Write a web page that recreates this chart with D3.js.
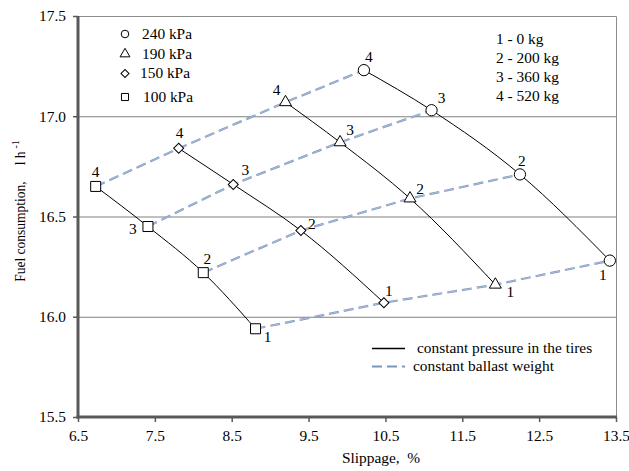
<!DOCTYPE html>
<html><head><meta charset="utf-8">
<script src="https://cdn.jsdelivr.net/npm/d3@7/dist/d3.min.js"></script>
<style>
body{margin:0;background:#fff;}
</style></head>
<body><svg id="c" width="629" height="471"></svg>
<script>
// ---- data ----
const pressures = ["240 kPa","190 kPa","150 kPa","100 kPa"];
const weightLabels = ["1 - 0 kg","2 - 200 kg","3 - 360 kg","4 - 520 kg"];
const weightIds = ["1","2","3","4"];
// slippage (%) and fuel consumption for weights 1..4
const slip240 = [13.42, 12.25, 11.10, 10.22];
const fuel240 = [16.28, 16.71, 17.03, 17.23];
const slip190 = [11.93, 10.82, 9.91, 9.20];
const fuel190 = [16.16, 16.59, 16.87, 17.07];
const slip150 = [10.48, 9.40, 8.52, 7.81];
const fuel150 = [16.07, 16.43, 16.66, 16.84];
const slip100 = [8.81, 8.13, 7.41, 6.73];
const fuel100 = [15.94, 16.22, 16.45, 16.65];
const xTicks = [6.5, 7.5, 8.5, 9.5, 10.5, 11.5, 12.5, 13.5];
const yTicks = [15.5, 16.0, 16.5, 17.0, 17.5];
const lineLegend = ["constant pressure in the tires","constant ballast weight"];

// ---- layout ----
const FONT = "Liberation Serif";
const SX = 1.1; // horizontal stretch of the reference text
const L = 78, R = 616, T = 16, B = 417;
const x = d3.scaleLinear().domain([6.5, 13.5]).range([L, R]);
const y = d3.scaleLinear().domain([15.5, 17.5]).range([B, T]);
const svg = d3.select("#c");

function txt(px, py, str, size, anchor) {
  return svg.append("text")
    .attr("transform", `translate(${px},${py}) scale(${SX},1)`)
    .attr("text-anchor", anchor || "start").attr("dominant-baseline", "central")
    .attr("font-family", FONT).attr("font-size", size).attr("fill", "#000").text(str);
}

const sq = d3.symbolSquare;
const series = [
  {name: pressures[0], sym: d3.symbolCircle, size: 100, rot: 0, xs: slip240, ys: fuel240,
   off: [[-7,15],[2,-13],[10,-12],[5,-13]]},
  {name: pressures[1], sym: d3.symbolTriangle, size: 62, rot: 0, xs: slip190, ys: fuel190,
   off: [[15,8],[10,-9],[10,-12],[-9,-12]]},
  {name: pressures[2], sym: sq, size: 50, rot: 45, xs: slip150, ys: fuel150,
   off: [[5,-11],[11,-6],[12,-14],[1,-15]]},
  {name: pressures[3], sym: sq, size: 100, rot: 0, xs: slip100, ys: fuel100,
   off: [[12,8],[4,-13],[-15,3],[0,-14]]}
];

// grid lines
svg.append("g").selectAll("line").data([16.0, 16.5, 17.0]).join("line")
  .attr("x1", L).attr("x2", R).attr("y1", d => y(d)+0.5).attr("y2", d => y(d)+0.5)
  .attr("stroke", "#808080").attr("stroke-width", 1);
// top / right border
svg.append("path").attr("d", `M${L},${T+0.5}H${R+0.5}V${B}`)
  .attr("fill","none").attr("stroke","#8c8c8c").attr("stroke-width",1);

// dashed constant ballast weight lines
for (let w = 0; w < 4; w++) {
  const pts = series.map(s => [s.xs[w], s.ys[w]]).reverse();
  const ln = d3.line().x(d => x(d[0])).y(d => y(d[1]));
  svg.append("path").attr("d", ln(pts)).attr("fill","none")
    .attr("stroke","#7b96bf").attr("stroke-width",2.2).attr("stroke-dasharray","10,5");
  svg.append("path").attr("d", ln(pts)).attr("fill","none")
    .attr("stroke","#dfe6f0").attr("stroke-width",0.5).attr("stroke-dasharray","10,5");
}

// solid constant pressure curves
series.forEach(s => {
  const pts = s.xs.map((v,i) => [v, s.ys[i]]).sort((a,b)=>a[0]-b[0]);
  svg.append("path").attr("d", d3.line().curve(d3.curveMonotoneX).x(d=>x(d[0])).y(d=>y(d[1]))(pts))
    .attr("fill","none").attr("stroke","#000").attr("stroke-width",1);
});

// markers and labels
series.forEach(s => {
  s.xs.forEach((v, i) => {
    svg.append("path").attr("d", d3.symbol().type(s.sym).size(s.size)())
      .attr("transform", `translate(${x(v)},${y(s.ys[i])}) rotate(${s.rot})`)
      .attr("fill","#fff").attr("stroke","#000").attr("stroke-width",1);
    txt(x(v)+s.off[i][0], y(s.ys[i])+s.off[i][1], weightIds[i], 14, "middle");
  });
});

// axes
const xAxis = d3.axisBottom(x).tickValues(xTicks).tickSize(5).tickFormat(d3.format(".1f"));
const gx = svg.append("g").attr("transform", `translate(0,${B})`).call(xAxis)
  .attr("font-family", FONT).attr("font-size", 14);
gx.select(".domain").attr("stroke","#595959").attr("stroke-width",3).attr("d", `M${L-1.5},0H${R+1}`);
gx.selectAll(".tick line").attr("stroke","#595959").attr("stroke-width",1.5);
gx.selectAll(".tick text").attr("y",0).attr("dy",0).attr("fill","#000")
  .attr("dominant-baseline","central").attr("transform", `translate(0,19) scale(${SX},1)`);

const yAxis = d3.axisLeft(y).tickValues(yTicks).tickSize(5).tickFormat(d3.format(".1f"));
const gy = svg.append("g").attr("transform", `translate(${L},0)`).call(yAxis)
  .attr("font-family", FONT).attr("font-size", 14);
gy.select(".domain").attr("stroke","#595959").attr("stroke-width",3).attr("d", `M0,${T}V${B+1.5}`);
gy.selectAll(".tick line").attr("stroke","#595959").attr("stroke-width",1.5);
gy.selectAll(".tick text").attr("x",0).attr("dy",0).attr("fill","#000")
  .attr("dominant-baseline","central").attr("transform", `translate(-12,0) scale(${SX},1)`);

// axis titles
txt(381, 458, "Slippage,  %", 14, "middle").attr("xml:space","preserve");
const yt = svg.append("text").attr("transform","translate(20,211) rotate(-90) scale(1,1.1)")
  .attr("text-anchor","middle").attr("dominant-baseline","central")
  .attr("font-family", FONT).attr("font-size",13.5);
yt.append("tspan").text("Fuel consumption,");
yt.append("tspan").attr("dx",16).text("l h");
yt.append("tspan").attr("dx",3).attr("dy",-5).attr("font-size",10).text("-1");

// pressure legend
const legY = [34, 54, 73.5, 97];
const legSym = [d3.symbolCircle, d3.symbolTriangle, sq, sq];
const legSize = [45, 42, 32, 50];
const legRot = [0, 0, 45, 0];
pressures.forEach((p, i) => {
  svg.append("path").attr("d", d3.symbol().type(legSym[i]).size(legSize[i])())
    .attr("transform", `translate(125,${legY[i]}) rotate(${legRot[i]})`)
    .attr("fill","#fff").attr("stroke","#000").attr("stroke-width",1);
  txt([142,142,140,143][i], legY[i], p, 14);
});

// weight legend
weightLabels.forEach((w, i) => txt(496, 39 + i*19, w, 14));

// line legend
svg.append("line").attr("x1",372).attr("x2",405).attr("y1",348.5).attr("y2",348.5)
  .attr("stroke","#000").attr("stroke-width",1.5);
svg.append("line").attr("x1",372).attr("x2",405).attr("y1",366.5).attr("y2",366.5)
  .attr("stroke","#7b96bf").attr("stroke-width",2.2).attr("stroke-dasharray","10,5");
txt(417, 348, lineLegend[0], 14);
txt(413, 366, lineLegend[1], 14);
</script></body></html>
